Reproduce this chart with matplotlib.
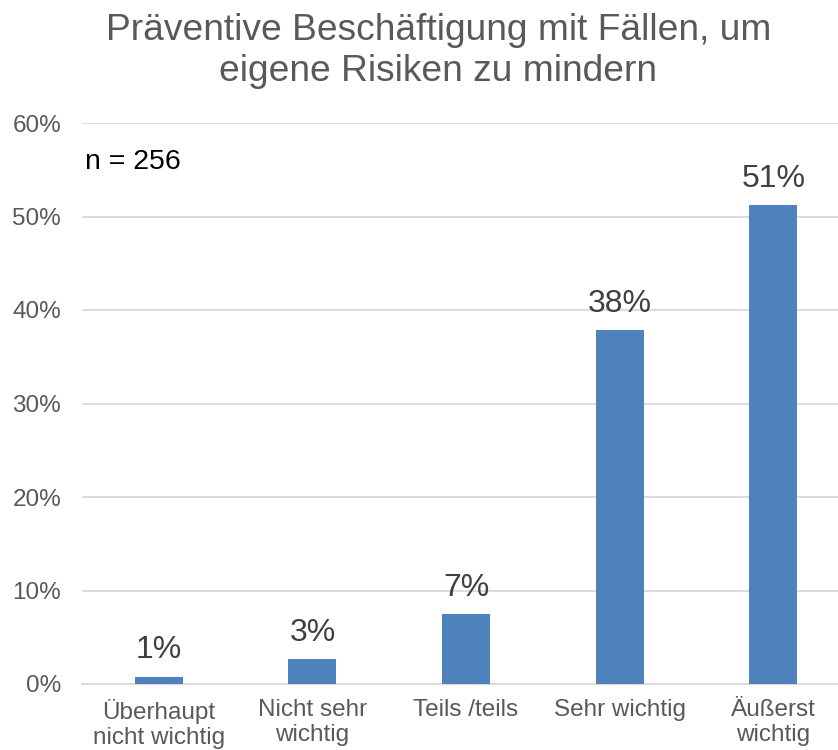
import matplotlib.pyplot as plt
from matplotlib.ticker import FuncFormatter

plt.rcParams["font.family"] = ["Liberation Sans", "DejaVu Sans"]

categories = ["Überhaupt\nnicht wichtig", "Nicht sehr\nwichtig", "Teils /teils",
              "Sehr wichtig", "Äußerst\nwichtig"]
values = [0.8, 2.7, 7.5, 37.9, 51.2]
labels = ["1%", "3%", "7%", "38%", "51%"]
yticks = [0, 10, 20, 30, 40, 50, 60]

GRAY = "#595959"
BLUE = "#4F81BD"

fig = plt.figure(figsize=(8.38, 7.5), dpi=100)
ax = fig.add_axes([0.0979, 0.088, 0.9165, 0.748])

x = range(len(categories))
bars = ax.bar(x, values, width=0.313, color=BLUE, zorder=3)

for b, lab in zip(bars, labels):
    ax.annotate(lab, (b.get_x() + b.get_width() / 2, b.get_height()),
                xytext=(0, 8), textcoords="offset points",
                ha="center", va="bottom", fontsize=23, color="#404040")

ax.set_xlim(-0.5, len(categories) - 0.5)
ax.set_ylim(0, 60)
ax.set_yticks(yticks)
ax.yaxis.set_major_formatter(FuncFormatter(lambda v, p: f"{v:.0f}%"))
ax.grid(axis="y", color="#D9D9D9", linewidth=1.3, zorder=0)

ax.set_xticks(list(x))
ax.set_xticklabels(categories, fontsize=17.5, color=GRAY, linespacing=1.15)
ax.tick_params(axis="y", labelsize=17.5, labelcolor=GRAY, length=0, pad=15)
ax.tick_params(axis="x", length=0, pad=11)

for s in ["top", "right", "left"]:
    ax.spines[s].set_visible(False)
ax.spines["bottom"].set_color("#D9D9D9")
ax.spines["bottom"].set_linewidth(1.3)

ax.text(0.0040, 0.93, "n = 256", transform=ax.transAxes, fontsize=20.5,
        color="black", ha="left", va="center")

fig.text(0.523, 0.982, "Präventive Beschäftigung mit Fällen, um\neigene Risiken zu mindern",
         ha="center", va="top", fontsize=26.7, color=GRAY, linespacing=1.2)

fig.savefig("out.png", dpi=100)
